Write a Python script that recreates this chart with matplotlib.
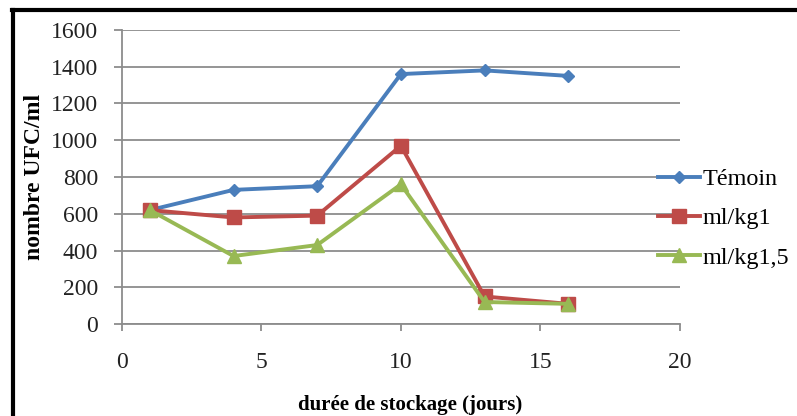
import matplotlib.pyplot as plt
from matplotlib.lines import Line2D

# storage duration (days) and colony counts
jours = [1, 4, 7, 10, 13, 16]
temoin = [620, 730, 750, 1360, 1380, 1350]
ml_kg1 = [620, 580, 590, 970, 150, 110]
ml_kg15 = [620, 370, 430, 760, 120, 110]
noms = ['Témoin', 'ml/kg1', 'ml/kg1,5']

plt.rcParams['font.family'] = ['Liberation Serif', 'DejaVu Serif']

fig = plt.figure(figsize=(7.97, 4.16), dpi=100)
ax = fig.add_axes([0.153, 0.221, 0.7, 0.707])

grey = '#8c8c8c'
ax.plot(jours, temoin, color='#4a7ebb', lw=2.8, marker='D', ms=6.5, label=noms[0], zorder=3)
ax.plot(jours, ml_kg1, color='#be4b48', lw=2.8, marker='s', ms=9.5, label=noms[1], zorder=4)
ax.plot(jours, ml_kg15, color='#98b954', lw=2.8, marker='^', ms=9.5, label=noms[2], zorder=5)

ax.set_xlim(0, 20)
ax.set_ylim(0, 1600)
ax.set_xticks([0, 5, 10, 15, 20])
ax.set_yticks(range(0, 1601, 200))
ax.yaxis.grid(True, color=grey, lw=1.3)
ax.set_axisbelow(True)
for s in ['top', 'right']:
    ax.spines[s].set_visible(False)
for s in ['left', 'bottom']:
    ax.spines[s].set_color(grey)
    ax.spines[s].set_linewidth(1.3)
ax.tick_params(axis='both', colors=grey, labelcolor='#222222', labelsize=17, width=1.3)
ax.tick_params(axis='x', length=5, pad=15)
ax.tick_params(axis='y', length=6, pad=11)

ax.set_xlabel('durée de stockage (jours)', fontsize=15, fontweight='bold')
ax.set_ylabel('nombre UFC/ml', fontsize=17, fontweight='bold')
ax.xaxis.set_label_coords(0.516, -0.242)
ax.yaxis.set_label_coords(-0.138, 0.5)

handles = [Line2D([], [], color=l.get_color(), lw=2.8, marker=l.get_marker(), ms=l.get_markersize())
           for l in ax.get_lines()]
fig.legend(handles, noms, loc='center left', bbox_to_anchor=(0.8256, 0.475), frameon=False,
           fontsize=17.4, handlelength=1.75, handletextpad=0.1, labelspacing=0.72,
           borderpad=0, borderaxespad=0)

# frame on the left and top of the figure
fig.add_artist(Line2D([0.016, 0.016], [0, 0.976], color='black', lw=3, transform=fig.transFigure))
fig.add_artist(Line2D([0.015, 1], [0.976, 0.976], color='black', lw=3, transform=fig.transFigure))

fig.savefig('out.png', dpi=100)
